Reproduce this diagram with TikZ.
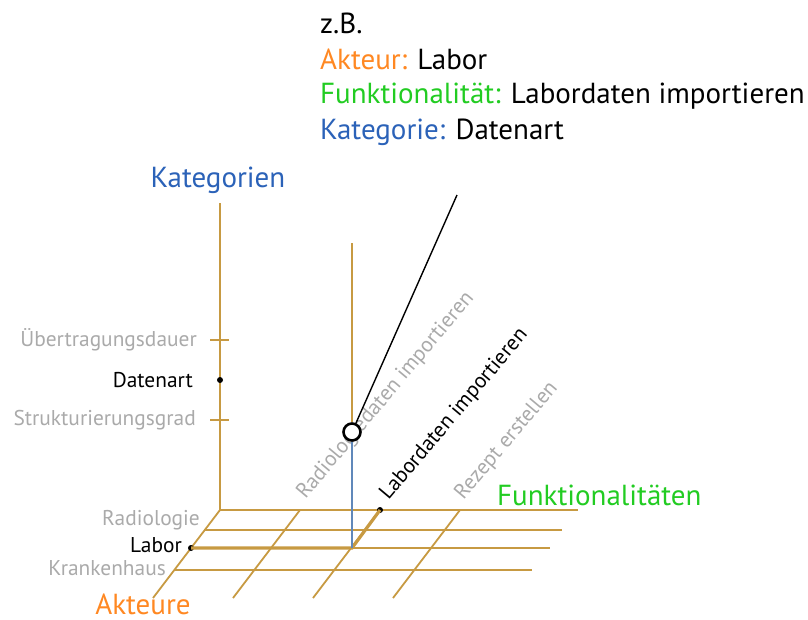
\documentclass[tikz,border=0pt]{standalone}
\usepackage{fontspec}
\setmainfont{PT Sans}
\usepackage{tikz}
\definecolor{goldbraun}{RGB}{199,154,66}
\definecolor{katblau}{RGB}{43,98,184}
\definecolor{linienblau}{RGB}{96,136,186}
\definecolor{fktgruen}{RGB}{34,204,34}
\definecolor{aktorange}{RGB}{255,136,34}
\definecolor{hellgrau}{RGB}{170,170,170}

\begin{document}
\begin{tikzpicture}[x=1pt,y=-1pt,
		gitter/.style={goldbraun,line width=1.8pt},
		titel/.style={font=\fontsize{29}{32}\selectfont,inner sep=0pt},
		klein/.style={font=\fontsize{21.4}{24}\selectfont,inner sep=0pt},
		punkt/.style={circle,fill=black,inner sep=0pt,minimum size=6pt}]
		\useasboundingbox (0,0) rectangle (808,619);
		% Beispiel oben
		\node[titel,anchor=west] (zb) at (320,23) {z.B.};
		\node[titel,anchor=west] (bspakteur) at (320,59) {{\color{aktorange}Akteur:} Labor};
		\node[titel,anchor=west] (bspfkt) at (320,96) {{\color{fktgruen}Funktionalität:} Labordaten importieren};
		\node[titel,anchor=west] (bspkat) at (320,132) {{\color{katblau}Kategorie:} Datenart};
		% Gitter
		\coordinate (o) at (220,510);
		\foreach \x in {0,...,3}
			\draw[gitter] (220+80*\x,510) -- ++(-67,88);
		\foreach \y/\a/\e in {510/220/578, 530/205/562, 548/191/550, 570/174/532}
			\draw[gitter] (\a,\y) -- (\e,\y);
		% Kategorien-Achse
		\coordinate (katende) at (220,203);
		\draw[gitter] (o) -- (katende);
		\draw[gitter] (210,340) -- (229,340);
		\draw[gitter] (210,420) -- (229,420);
		\node[titel,katblau] (kategorien) at (218,180) {Kategorien};
		\node[titel,fktgruen,anchor=west] (funktionalitaeten) at (497,495) {Funktionalitäten};
		\node[titel,aktorange] (akteure) at (143,604) {Akteure};
		\node[klein,hellgrau,anchor=east] (uebertragung) at (197,340) {Übertragungsdauer};
		\node[klein,anchor=east] (datenart) at (193,380) {Datenart};
		\node[klein,hellgrau,anchor=east] (struktur) at (196,420) {Strukturierungsgrad};
		\node[punkt] (datenartpunkt) at (220,380) {};
		\node[klein,hellgrau,anchor=east] (radiologie) at (200,520) {Radiologie};
		\node[klein,anchor=east] (labor) at (182,545) {Labor};
		\node[klein,hellgrau,anchor=east] (krankenhaus) at (166,568) {Krankenhaus};
		% Funktionalitaeten
		\node[klein,hellgrau,rotate=50,anchor=south west] (radiologiedaten) at (309,503) {Radiologiedaten importieren};
		\node[klein,rotate=50,anchor=south west] (labordaten) at (392,504) {Labordaten importieren};
		\node[klein,hellgrau,rotate=50,anchor=south west] (rezept) at (467,504) {Rezept erstellen};
		% Auswahl
		\node[punkt] (labordot) at (191,548) {};
		\node[punkt] (fktdot) at (380,510) {};
		\coordinate (fuss) at (352,548);
		\coordinate (oben) at (352,243);
		\coordinate (zeiger) at (457,195);
		\draw[goldbraun,line width=3.2pt] (labordot.center) -- (fuss) -- (fktdot.center);
		\node[circle,draw=black,fill=white,line width=2.6pt,minimum size=17pt,inner sep=0pt] (kreis) at (352,432) {};
		\draw[linienblau,line width=1.8pt] (fuss) -- (kreis);
		\draw[gitter] (kreis) -- (oben);
		\draw[black,line width=1.4pt] (kreis) -- (zeiger);
\end{tikzpicture}
\end{document}
